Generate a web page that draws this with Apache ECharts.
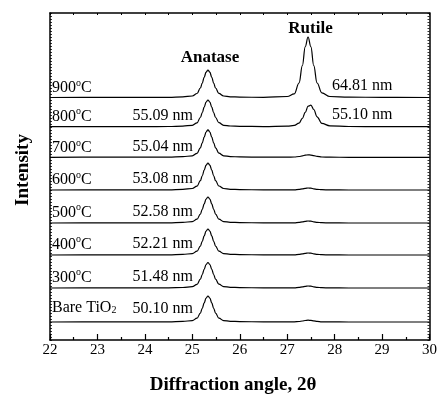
<!DOCTYPE html>
<html>
<head>
<meta charset="utf-8">
<script src="https://cdn.jsdelivr.net/npm/echarts@6/dist/echarts.min.js"></script>
<style>
html,body{margin:0;padding:0;background:#fff;}
#chart{width:440px;height:396px;}
</style>
</head>
<body>
<div id="chart"></div>
<script>
// 2θ sample positions (degrees)
const angles = [22, 23, 24, 24.5, 24.8, 25.0, 25.1, 25.17, 25.21, 25.25, 25.29, 25.33, 25.37, 25.41, 25.45, 25.49, 25.56, 25.66, 25.8, 26.0, 26.5, 27.0, 27.15, 27.25, 27.32, 27.38, 27.44, 27.5, 27.56, 27.63, 27.73, 27.9, 28.3, 29, 30];

// Offset (stacked) intensities, arbitrary units
const curve900 = [242.5, 242.6, 242.6, 242.7, 243.1, 244.0, 246.5, 252.0, 256.9, 262.7, 267.8, 270.0, 267.8, 262.7, 256.9, 252.0, 246.6, 244.0, 243.2, 242.9, 242.6, 243.5, 246.2, 257.0, 274.3, 293.1, 303.0, 293.1, 274.3, 257.0, 247.2, 243.5, 242.8, 242.7, 242.5];
const curve800 = [213.3, 213.4, 213.4, 213.5, 213.9, 214.7, 217.2, 222.5, 227.3, 232.9, 237.9, 240.0, 237.9, 232.9, 227.3, 222.5, 217.3, 214.7, 214.0, 213.7, 213.4, 213.8, 214.6, 216.8, 221.7, 227.6, 233.8, 234.9, 230.5, 223.2, 216.6, 214.2, 213.5, 213.3, 213.3];
const curve700 = [182.7, 182.8, 182.8, 182.9, 183.3, 184.2, 186.7, 192.2, 197.1, 202.9, 208.0, 210.2, 208.0, 202.9, 197.1, 192.2, 186.8, 184.2, 183.4, 183.1, 182.8, 182.8, 183.0, 183.5, 184.1, 184.8, 185.2, 184.9, 184.3, 183.6, 183.0, 182.8, 182.7, 182.7, 182.7];
const curve600 = [150.0, 150.1, 150.1, 150.2, 150.6, 151.5, 153.9, 159.3, 164.2, 169.8, 174.8, 177.0, 174.8, 169.8, 164.2, 159.3, 154.0, 151.5, 150.7, 150.4, 150.1, 150.1, 150.2, 150.6, 151.1, 151.6, 152.0, 151.8, 151.2, 150.7, 150.3, 150.1, 150.0, 150.0, 150.0];
const curve500 = [117.0, 117.1, 117.1, 117.2, 117.6, 118.4, 120.8, 125.9, 130.7, 136.1, 140.9, 143.0, 140.9, 136.1, 130.7, 125.9, 120.8, 118.4, 117.7, 117.4, 117.1, 117.1, 117.2, 117.6, 118.1, 118.6, 119.0, 118.8, 118.2, 117.7, 117.3, 117.1, 117.0, 117.0, 117.0];
const curve400 = [85.0, 85.1, 85.1, 85.2, 85.6, 86.4, 88.8, 93.9, 98.7, 104.1, 108.9, 111.0, 108.9, 104.1, 98.7, 93.9, 88.8, 86.4, 85.7, 85.4, 85.1, 85.1, 85.2, 85.6, 86.1, 86.6, 87.0, 86.8, 86.2, 85.7, 85.3, 85.1, 85.0, 85.0, 85.0];
const curve300 = [52.0, 52.1, 52.1, 52.2, 52.5, 53.4, 55.7, 60.8, 65.4, 70.7, 75.5, 77.5, 75.5, 70.7, 65.4, 60.8, 55.8, 53.4, 52.7, 52.4, 52.1, 52.1, 52.2, 52.6, 53.1, 53.6, 54.0, 53.8, 53.2, 52.7, 52.3, 52.1, 52.0, 52.0, 52.0];
const curveBare = [18.0, 18.1, 18.1, 18.2, 18.6, 19.4, 21.8, 26.9, 31.7, 37.1, 41.9, 44.0, 41.9, 37.1, 31.7, 26.9, 21.8, 19.4, 18.7, 18.4, 18.1, 18.1, 18.2, 18.5, 19.0, 19.5, 19.8, 19.6, 19.1, 18.6, 18.2, 18.1, 18.0, 18.0, 18.0];

const curves = [curve900, curve800, curve700, curve600, curve500, curve400, curve300, curveBare];

// Text
const tempLabels = ['900', '800', '700', '600', '500', '400', '300'];
const anataseSizes = ['', '55.09 nm', '55.04 nm', '53.08 nm', '52.58 nm', '52.21 nm', '51.48 nm', '50.10 nm'];
const rutileSizes = ['64.81 nm', '55.10 nm'];
const xTickMin = 22, xTickMax = 30, xTickStep = 1;

const FONT = '"Liberation Serif", "Times New Roman", serif';

const chart = echarts.init(document.getElementById('chart'), null, {renderer: 'canvas'});

const series = curves.map((c, k) => ({
  type: 'line',
  name: 's' + k,
  data: angles.map((a, i) => [a, c[i]]),
  smooth: 0.4,
  smoothMonotone: 'x',
  showSymbol: false,
  symbol: 'none',
  lineStyle: {color: '#000', width: 1.2},
  silent: true,
  animation: false
}));

// label row centers (pixels)
const rowY = [87, 115.5, 147, 179, 211.5, 243.5, 276.5, 308.5];
const graphics = [];
const rich = {
  t: {fontSize: 16, fontFamily: FONT, color: '#000', lineHeight: 18, verticalAlign: 'bottom'},
  s: {fontSize: 10, fontFamily: FONT, color: '#000', lineHeight: 18, verticalAlign: 'top'},
  b: {fontSize: 10, fontFamily: FONT, color: '#000', lineHeight: 18, verticalAlign: 'bottom'}
};
tempLabels.forEach((t, i) => {
  graphics.push({type: 'text', left: 52, top: rowY[i] - 9, silent: true,
    style: {text: '{t|' + t + '}{s|o}{t|C}', rich: rich}});
});
graphics.push({type: 'text', left: 52, top: rowY[7] - 9, silent: true,
  style: {text: '{t|Bare TiO}{b|2}', rich: rich}});
anataseSizes.forEach((s, i) => {
  if (!s) return;
  graphics.push({type: 'text', x: 193, y: rowY[i], silent: true,
    style: {text: s, font: '16px ' + FONT, fill: '#000', align: 'right', verticalAlign: 'middle'}});
});
rutileSizes.forEach((s, i) => {
  graphics.push({type: 'text', x: 332, y: rowY[i] - 1, silent: true,
    style: {text: s, font: '16px ' + FONT, fill: '#000', align: 'left', verticalAlign: 'middle'}});
});
graphics.push({type: 'text', x: 210, y: 58, silent: true,
  style: {text: 'Anatase', font: 'bold 17px ' + FONT, fill: '#000', align: 'center', verticalAlign: 'middle'}});
graphics.push({type: 'text', x: 310.5, y: 28.5, silent: true,
  style: {text: 'Rutile', font: 'bold 17px ' + FONT, fill: '#000', align: 'center', verticalAlign: 'middle'}});
graphics.push({type: 'text', x: 23, y: 170, rotation: Math.PI / 2, silent: true,
  style: {text: 'Intensity', font: 'bold 19px ' + FONT, fill: '#000', align: 'center', verticalAlign: 'middle'}});
graphics.push({type: 'text', x: 233, y: 385, silent: true,
  style: {text: 'Diffraction angle, 2θ', font: 'bold 19px ' + FONT, fill: '#000', align: 'center', verticalAlign: 'middle'}});

const axisLine = {show: true, onZero: false, lineStyle: {color: '#000', width: 1.5}};

chart.setOption({
  animation: false,
  backgroundColor: '#fff',
  grid: {left: 50, right: 8, top: 13, bottom: 56, containLabel: false},
  xAxis: [
    {type: 'value', position: 'bottom', min: xTickMin, max: xTickMax, interval: xTickStep,
     axisLine: axisLine,
     axisTick: {show: true, inside: true, length: 6, lineStyle: {color: '#000', width: 1.2}},
     minorTick: {show: true, splitNumber: 2, length: 3, lineStyle: {color: '#000', width: 1.2}},
     axisLabel: {show: true, margin: 3, fontSize: 15, fontFamily: FONT, color: '#000'},
     splitLine: {show: false}},
    {type: 'value', position: 'top', min: xTickMin, max: xTickMax, interval: 0.5,
     axisLine: axisLine,
     axisTick: {show: true, inside: true, length: 2, lineStyle: {color: '#000', width: 1}},
     axisLabel: {show: false}, splitLine: {show: false}}
  ],
  yAxis: [
    {type: 'value', position: 'left', min: 0, max: 327, interval: 3,
     axisLine: axisLine,
     axisTick: {show: true, inside: true, length: 2, lineStyle: {color: '#000', width: 0.8}},
     axisLabel: {show: false}, splitLine: {show: false}},
    {type: 'value', position: 'right', min: 0, max: 327, interval: 3,
     axisLine: axisLine,
     axisTick: {show: true, inside: true, length: 2, lineStyle: {color: '#000', width: 0.8}},
     axisLabel: {show: false}, splitLine: {show: false}}
  ],
  series: series,
  graphic: graphics
});
</script>
</body>
</html>
